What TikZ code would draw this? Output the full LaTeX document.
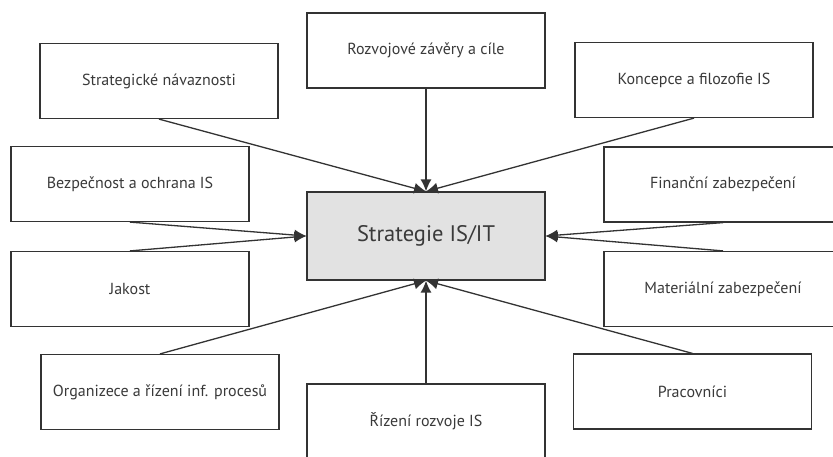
\documentclass[tikz,border=0pt]{standalone}
\usepackage{fontspec}
\setmainfont{PT Sans}
\usetikzlibrary{arrows.meta}
\definecolor{ink}{HTML}{333333}
\definecolor{txt}{HTML}{3A3A3A}
\definecolor{core}{HTML}{E2E2E2}
\begin{document}
\begin{tikzpicture}[x=1pt,y=-1pt,
  factor/.style={draw=ink,line width=1.2pt,fill=white,minimum width=238pt,
    minimum height=75pt,inner sep=0pt,text=txt,font=\fontsize{16}{18}\selectfont},
  hub/.style={factor,fill=core,minimum height=88pt,font=\fontsize{22.5}{26}\selectfont},
  feed/.style={draw=ink,line width=1.3pt,-{Latex[length=12pt,width=11pt]}}]
  \useasboundingbox (0,0) rectangle (833,456);

  % central node
  \node[hub] (hub) at (426,236) {Strategie IS/IT};

  % surrounding factors
  \node[factor] (strat) at (159,81)    {Strategické návaznosti};
  \node[factor] (rozv)  at (426,50.5)  {Rozvojové závěry a cíle};
  \node[factor] (konc)  at (694,80)    {Koncepce a filozofie IS};
  \node[factor] (bezp)  at (130,184)   {Bezpečnost a ochrana IS};
  \node[factor] (fin)   at (723,184.5) {Finanční zabezpečení};
  \node[factor] (jak)   at (130,289)   {Jakost};
  \node[factor] (mat)   at (723,289)   {Materiální zabezpečení};
  \node[factor] (org)   at (160,392)   {Organizece a řízení inf. procesů};
  \node[factor] (riz)   at (426,421.5) {Řízení rozvoje IS};
  \node[factor] (prac)  at (692.5,391.5) {Pracovníci};

  % influences pointing to the centre
  \draw[feed] (strat.south) -- (hub.north);
  \draw[feed] (rozv.south)  -- (hub.north);
  \draw[feed] (konc.south)  -- (hub.north);
  \draw[feed] (bezp.south)  -- (hub.west);
  \draw[feed] (jak.north)   -- (hub.west);
  \draw[feed] (fin.south)   -- (hub.east);
  \draw[feed] (mat.north)   -- (hub.east);
  \draw[feed] (org.north)   -- (hub.south);
  \draw[feed] (riz.north)   -- (hub.south);
  \draw[feed] (prac.north)  -- (hub.south);
\end{tikzpicture}
\end{document}
